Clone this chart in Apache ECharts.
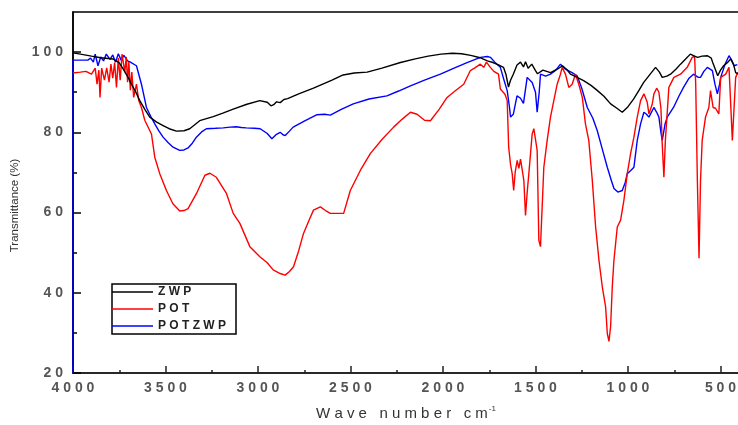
<!DOCTYPE html>
<html>
<head>
<meta charset="utf-8">
<title>FTIR spectra</title>
<script src="https://cdn.jsdelivr.net/npm/echarts/dist/echarts.min.js"></script>
<style>
  html, body { margin: 0; padding: 0; background: #fff; }
  #chart { width: 738px; height: 425px; }
</style>
</head>
<body>
<div id="chart"></div>
<script>
// FTIR transmittance spectra: [wavenumber (cm-1), transmittance (%)]
const zwpSpectrum = [
  [4000, 99.8], [3960, 99.5], [3900, 99.0], [3850, 98.6], [3784, 98.3], [3750, 97.3],
  [3729, 95.8], [3700, 93.5], [3684, 92.0], [3660, 90.0], [3639, 87.9], [3610, 85.6],
  [3585, 83.8], [3550, 82.6], [3513, 81.7], [3480, 80.9], [3441, 80.3], [3400, 80.4],
  [3369, 80.9], [3315, 82.9], [3242, 83.9], [3190, 84.8], [3134, 85.8], [3060, 87.0],
  [2990, 87.9], [2950, 87.5], [2930, 86.6], [2915, 86.9], [2900, 87.6], [2880, 87.4],
  [2860, 88.2], [2840, 88.4], [2780, 89.6], [2700, 91.0], [2600, 93.0], [2540, 94.3],
  [2480, 94.8], [2410, 95.0], [2330, 96.0], [2230, 97.4], [2150, 98.3], [2080, 99.0],
  [2010, 99.5], [1950, 99.7], [1900, 99.6], [1850, 99.2], [1800, 98.6], [1760, 97.8],
  [1730, 97.4], [1700, 96.8], [1673, 96.2], [1660, 94.5], [1646, 91.3], [1635, 93.0],
  [1620, 94.5], [1600, 96.8], [1581, 97.5], [1565, 96.3], [1554, 97.6], [1540, 96.0],
  [1520, 97.0], [1500, 95.4], [1489, 94.6], [1460, 95.5], [1419, 94.9], [1380, 95.8],
  [1354, 96.6], [1330, 95.6], [1311, 94.5], [1280, 93.8], [1240, 92.9], [1200, 91.7],
  [1165, 90.4], [1130, 89.0], [1094, 87.1], [1060, 86.0], [1031, 85.0], [1000, 86.4],
  [970, 88.3], [940, 90.5], [916, 92.4], [880, 94.5], [851, 96.2], [830, 95.0],
  [815, 93.7], [790, 94.0], [770, 94.5], [740, 95.8], [716, 97.0], [690, 98.2],
  [663, 99.5], [640, 99.0], [624, 98.7], [600, 99.0], [570, 99.1], [550, 98.5],
  [542, 97.4], [515, 94.1], [500, 95.5], [483, 96.6], [460, 97.5], [445, 98.3],
  [430, 97.0], [418, 94.9], [406, 94.6]
];

const potSpectrum = [
  [4000, 94.8], [3960, 95.0], [3930, 95.2], [3900, 94.5], [3880, 96.0], [3870, 92.0],
  [3860, 95.5], [3854, 88.7], [3845, 96.0], [3830, 93.0], [3818, 96.1], [3805, 92.5],
  [3795, 97.0], [3785, 93.5], [3775, 97.4], [3765, 91.2], [3755, 98.5], [3745, 93.0],
  [3735, 99.5], [3728, 99.7], [3720, 95.0], [3712, 98.8], [3705, 92.5], [3698, 97.5],
  [3690, 90.5], [3682, 95.0], [3672, 88.7], [3657, 92.0], [3645, 88.0], [3630, 86.2],
  [3612, 83.0], [3576, 79.6], [3558, 73.8], [3531, 69.7], [3495, 65.5], [3460, 62.2],
  [3423, 60.4], [3400, 60.5], [3378, 61.0], [3333, 64.7], [3287, 69.3], [3260, 69.8],
  [3225, 68.8], [3170, 64.7], [3134, 59.8], [3098, 57.3], [3044, 51.5], [2990, 49.0],
  [2950, 47.5], [2918, 45.7], [2880, 44.8], [2853, 44.4], [2830, 45.3], [2808, 46.5],
  [2780, 50.5], [2754, 54.8], [2720, 58.5], [2700, 60.6], [2663, 61.4], [2635, 60.5],
  [2609, 59.8], [2560, 59.8], [2537, 59.8], [2501, 65.5], [2447, 70.5], [2393, 74.7],
  [2330, 78.2], [2267, 81.3], [2220, 83.3], [2176, 85.0], [2140, 84.5], [2100, 83.0],
  [2068, 82.9], [2020, 85.8], [1978, 88.7], [1930, 90.5], [1888, 92.0], [1852, 95.4],
  [1830, 96.0], [1798, 97.0], [1780, 96.2], [1765, 97.5], [1744, 96.2], [1725, 95.2],
  [1700, 94.5], [1690, 90.8], [1680, 91.2], [1665, 89.5], [1653, 87.9], [1645, 76.3],
  [1635, 72.0], [1626, 69.7], [1618, 65.5], [1610, 70.0], [1599, 73.0], [1590, 71.0],
  [1581, 73.3], [1563, 68.0], [1554, 59.3], [1545, 65.0], [1536, 69.7], [1518, 79.6],
  [1509, 80.9], [1491, 75.5], [1482, 53.1], [1473, 51.5], [1464, 61.4], [1455, 71.3],
  [1437, 78.0], [1419, 83.8], [1401, 87.9], [1383, 92.0], [1365, 94.5], [1356, 96.2],
  [1338, 94.5], [1320, 91.2], [1302, 92.0], [1284, 94.5], [1266, 92.0], [1247, 88.7],
  [1230, 82.1], [1212, 78.0], [1193, 68.0], [1175, 56.4], [1157, 48.1], [1139, 41.5],
  [1121, 36.5], [1112, 29.9], [1103, 27.9], [1094, 31.6], [1085, 41.5], [1076, 48.1],
  [1058, 56.4], [1040, 58.1], [1022, 63.1], [1004, 69.7], [986, 74.7], [968, 78.8],
  [950, 83.8], [932, 87.9], [914, 89.6], [896, 87.5], [887, 84.6], [869, 87.0],
  [860, 89.6], [845, 91.0], [833, 90.0], [822, 86.0], [815, 77.1], [806, 68.8],
  [798, 78.0], [779, 91.2], [752, 93.7], [716, 94.5], [680, 96.2], [653, 98.7],
  [640, 99.0], [634, 92.0], [625, 68.0], [616, 48.6], [608, 68.0], [599, 78.0],
  [581, 83.8], [563, 86.2], [554, 90.4], [540, 86.2], [527, 86.0], [509, 84.6],
  [499, 93.7], [472, 94.5], [454, 96.2], [436, 78.0], [418, 93.7], [406, 95.0]
];

const potzwpSpectrum = [
  [4000, 20.0], [4000, 98.0], [3920, 98.0], [3905, 98.5], [3890, 97.5], [3880, 99.5],
  [3865, 96.6], [3850, 98.8], [3835, 97.8], [3820, 99.5], [3800, 98.2], [3785, 99.3],
  [3770, 97.5], [3755, 99.6], [3740, 98.0], [3725, 99.2], [3705, 97.8], [3690, 97.5],
  [3657, 96.6], [3630, 92.0], [3603, 86.2], [3580, 84.0], [3558, 82.1], [3535, 80.3],
  [3513, 78.8], [3485, 77.4], [3459, 76.3], [3423, 75.5], [3400, 75.6], [3378, 76.1],
  [3355, 77.3], [3333, 78.8], [3305, 80.1], [3279, 80.9], [3230, 81.0], [3188, 81.1],
  [3150, 81.3], [3118, 81.4], [3090, 81.2], [3064, 81.1], [3020, 81.0], [2988, 80.9],
  [2950, 79.7], [2925, 78.4], [2900, 79.5], [2880, 80.0], [2865, 79.4], [2853, 79.2],
  [2830, 80.3], [2810, 81.3], [2750, 82.8], [2681, 84.4], [2640, 84.5], [2609, 84.3],
  [2550, 85.7], [2485, 87.1], [2400, 88.3], [2303, 89.1], [2240, 90.3], [2176, 91.6],
  [2100, 93.0], [2014, 94.5], [1940, 96.0], [1870, 97.4], [1798, 98.7], [1760, 98.9],
  [1744, 98.7], [1720, 97.5], [1690, 96.2], [1670, 93.0], [1653, 90.4], [1640, 86.0],
  [1635, 83.8], [1620, 84.5], [1600, 89.1], [1581, 88.5], [1565, 87.2], [1545, 93.7],
  [1518, 92.4], [1500, 90.0], [1491, 85.0], [1480, 90.0], [1473, 94.5], [1445, 94.0],
  [1419, 94.5], [1390, 95.5], [1365, 97.0], [1340, 95.8], [1300, 94.8], [1275, 94.1],
  [1250, 91.0], [1220, 86.2], [1190, 83.5], [1166, 80.4], [1140, 76.0], [1112, 71.3],
  [1090, 68.0], [1076, 66.0], [1055, 65.1], [1031, 65.5], [1015, 67.5], [1004, 69.7],
  [985, 70.5], [968, 71.3], [950, 78.0], [932, 82.1], [914, 85.0], [900, 84.5],
  [887, 83.8], [860, 86.2], [845, 85.0], [833, 83.8], [822, 80.0], [815, 78.0],
  [800, 82.0], [788, 83.8], [754, 86.2], [725, 89.0], [700, 91.2], [670, 93.5],
  [646, 94.5], [620, 93.7], [608, 93.7], [590, 95.2], [571, 96.2], [544, 95.4],
  [530, 92.0], [517, 89.6], [505, 92.0], [499, 93.7], [475, 97.0], [454, 99.1],
  [440, 98.0], [427, 96.6], [409, 96.9]
];

const seriesNames = ['ZWP', 'POT', 'POTZWP'];
const xMajorTicks = [500, 1000, 1500, 2000, 2500, 3000, 3500, 4000];
const xMinorTicks = [750, 1250, 1750, 2250, 2750, 3250, 3750];
const yMajorTicks = [20, 40, 60, 80, 100];
const yMinorTicks = [30, 50, 70, 90];
const xTitle = 'Wave number cm';
const xTitleSup = '-1';
const yTitle = 'Transmittance (%)';

const FONT = '"Liberation Sans", Arial, sans-serif';
const spaced = s => String(s).split('').join(' ');

// both grids share one plot box; the second only carries the minor ticks
const gridBox = { left: 73, right: -1, top: 12, bottom: 52, containLabel: false, outerBoundsMode: 'none' };

const chart = echarts.init(document.getElementById('chart'), null, { renderer: 'canvas' });

chart.setOption({
  animation: false,
  backgroundColor: '#fff',
  textStyle: { fontFamily: FONT },
  grid: [
    Object.assign({ show: true, borderColor: '#000', borderWidth: 1.5 }, gridBox),
    Object.assign({ show: false }, gridBox)
  ],
  legend: {
    data: seriesNames,
    orient: 'vertical',
    left: 112,
    top: 284,
    icon: 'path://M0,0L40,0L40,1.4L0,1.4Z',
    itemWidth: 41,
    itemHeight: 11,
    itemGap: 5,
    padding: [2, 10, 2, 0],
    borderColor: '#000',
    borderWidth: 1.5,
    selectedMode: false,
    formatter: name => spaced(name),
    textStyle: { fontFamily: FONT, fontSize: 12, fontWeight: 'bold', color: '#222' }
  },
  xAxis: [
    {
      type: 'value', gridIndex: 0, min: 400, max: 4000, inverse: true,
      name: '{t|' + spaced(xTitle) + '}{s|' + xTitleSup + '}',
      nameLocation: 'middle', nameGap: 32,
      nameTextStyle: {
        rich: {
          t: { fontFamily: FONT, fontSize: 15, color: '#333' },
          s: { fontFamily: FONT, fontSize: 8, color: '#333', padding: [0, 0, 10, 1] }
        }
      },
      axisLine: { show: true, onZero: false, lineStyle: { color: '#222', width: 1.5 } },
      axisTick: { show: true, inside: true, length: 7, customValues: xMajorTicks, lineStyle: { color: '#222', width: 1.5 } },
      axisLabel: { show: true, customValues: xMajorTicks, margin: 8, formatter: v => spaced(v),
        fontFamily: FONT, fontSize: 14, fontWeight: 'bold', color: '#555' },
      splitLine: { show: false }
    },
    {
      type: 'value', gridIndex: 1, min: 400, max: 4000, inverse: true,
      axisLine: { show: false },
      axisTick: { show: true, inside: true, length: 3, customValues: xMinorTicks, lineStyle: { color: '#222', width: 1.5 } },
      axisLabel: { show: false },
      splitLine: { show: false }
    }
  ],
  yAxis: [
    {
      type: 'value', gridIndex: 0, min: 20, max: 110,
      name: yTitle, nameLocation: 'middle', nameGap: 50,
      nameTextStyle: { fontFamily: FONT, fontSize: 11.5, color: '#333', padding: [0, 26, 0, 0] },
      axisLine: { show: true, onZero: false, lineStyle: { color: '#000', width: 1.5 } },
      axisTick: { show: true, inside: true, length: 8, customValues: yMajorTicks, lineStyle: { color: '#000', width: 1.5 } },
      axisLabel: { show: true, customValues: yMajorTicks, margin: 10, formatter: v => spaced(v),
        fontFamily: FONT, fontSize: 14, fontWeight: 'bold', color: '#555' },
      splitLine: { show: false }
    },
    {
      type: 'value', gridIndex: 1, min: 20, max: 110,
      axisLine: { show: false },
      axisTick: { show: true, inside: true, length: 4, customValues: yMinorTicks, lineStyle: { color: '#000', width: 1.5 } },
      axisLabel: { show: false },
      splitLine: { show: false }
    }
  ],
  series: [
    {
      name: 'ZWP', type: 'line', xAxisIndex: 0, yAxisIndex: 0, data: zwpSpectrum,
      symbol: 'none', z: 4, lineStyle: { color: '#000', width: 1.4 }, itemStyle: { color: '#000' }
    },
    {
      name: 'POT', type: 'line', xAxisIndex: 0, yAxisIndex: 0, data: potSpectrum,
      symbol: 'none', z: 3, lineStyle: { color: '#ff0000', width: 1.4 }, itemStyle: { color: '#ff0000' }
    },
    {
      name: 'POTZWP', type: 'line', xAxisIndex: 0, yAxisIndex: 0, data: potzwpSpectrum,
      symbol: 'none', z: 2, lineStyle: { color: '#0000ff', width: 1.4 }, itemStyle: { color: '#0000ff' }
    }
  ]
});
</script>
</body>
</html>
